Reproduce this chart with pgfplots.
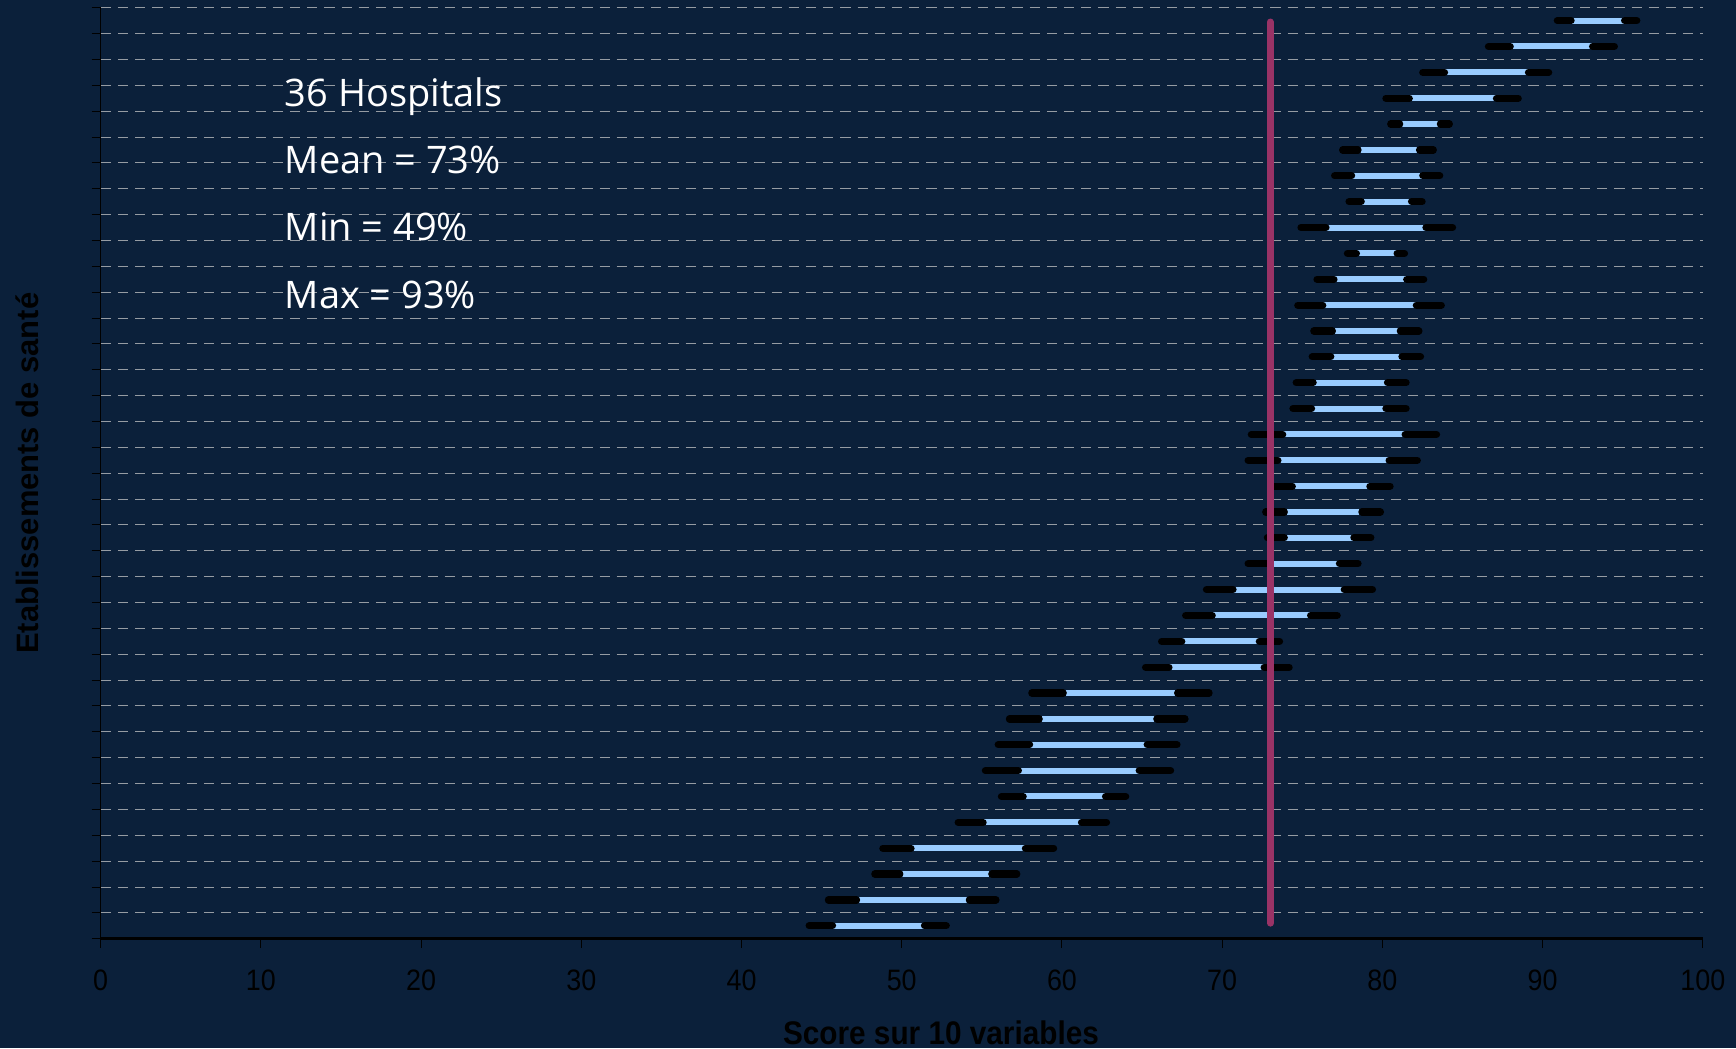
\documentclass[border=0pt]{standalone}
\usepackage{fontspec}
\setmainfont{Liberation Sans}[FakeStretch=0.91]
\newfontfamily\annfont{Open Sans}
\newfontfamily\ylabfont{Liberation Sans}
\usepackage{pgfplots}
\pgfplotsset{compat=1.18}
\usepackage{pgfplotstable}
\definecolor{bg}{RGB}{11,32,58}
\definecolor{barblue}{RGB}{153,204,255}
\definecolor{meanc}{RGB}{153,51,102}
\definecolor{gridc}{RGB}{150,156,163}

\pgfplotstableread{
y a b c d
35.5 90.7 92.0 94.9 96.1
34.5 86.4 88.2 92.9 94.7
33.5 82.3 84.1 88.9 90.6
32.5 80.0 81.9 86.9 88.7
31.5 80.3 81.3 83.4 84.4
30.5 77.3 78.7 82.1 83.4
29.5 76.8 78.3 82.3 83.8
28.5 77.7 78.9 81.6 82.7
27.5 74.7 76.7 82.5 84.6
26.5 77.6 78.6 80.7 81.6
25.5 75.7 77.2 81.3 82.8
24.5 74.5 76.5 81.9 83.9
23.5 75.5 77.1 80.9 82.5
22.5 75.4 77.0 81.0 82.6
21.5 74.4 75.9 80.1 81.7
20.5 74.2 75.8 80.0 81.7
19.5 71.6 74.0 81.2 83.6
18.5 71.4 73.7 80.2 82.4
17.5 73.0 74.6 79.0 80.7
16.5 72.5 74.1 78.5 80.1
15.5 72.6 74.1 78.0 79.5
14.5 71.4 73.0 77.1 78.7
13.5 68.8 70.9 77.4 79.6
12.5 67.5 69.6 75.3 77.4
11.5 66.0 67.7 72.1 73.8
10.5 65.0 66.9 72.4 74.4
9.5 57.9 60.3 67.0 69.4
8.5 56.5 58.8 65.7 67.9
7.5 55.8 58.2 65.1 67.4
6.5 55.0 57.5 64.6 67.0
5.5 56.0 57.8 62.5 64.2
4.5 53.3 55.3 61.0 63.0
3.5 48.6 50.8 57.5 59.7
2.5 48.1 50.1 55.4 57.4
1.5 45.2 47.4 54.0 56.1
0.5 44.0 45.9 51.2 53.0
}\data

\begin{document}
\begin{tikzpicture}
\fill[bg] (-1.007cm,-1.093cm) rectangle (16.352cm,9.387cm);
\begin{axis}[
  at={(0,0)}, anchor=south west,
  scale only axis, width=16.02cm, height=9.31cm,
  xmin=0, xmax=100, ymin=0, ymax=36,
  axis x line*=bottom, axis y line*=left,
  x axis line style={line width=0.25mm, black},
  y axis line style={line width=0.1mm, black},
  xtick={0,10,...,100}, ytick={0,1,...,36}, yticklabels={},
  tick align=outside, major tick length=0.9mm,
  tick style={black, line width=0.1mm},
  ymajorgrids,
  grid style={gridc, line width=0.1mm, dash pattern=on 1.03mm off 0.69mm},
  /pgf/number format/assume math mode=true,
  xticklabel style={font=\fontsize{8.4}{9}\selectfont, text=black, anchor=base, yshift=-4.3mm},
  xlabel={Score sur 10 variables},
  xlabel style={at={(axis description cs:0.5245,-0.1131)}, anchor=base,
    font=\bfseries\fontsize{9.3}{10}\selectfont, text=black},
  ylabel={Etablissements de santé},
  ylabel style={at={(axis description cs:-0.0456,0.5)}, anchor=center,
    font=\ylabfont\bfseries\fontsize{8.8}{10}\selectfont, text=black},
  clip=false,
]
% light blue central part
\addplot[barblue, line width=0.6mm,
  quiver={u=\thisrow{c}-\thisrow{b}+0.44, v=0}]
  table[x expr=\thisrow{b}-0.22, y=y]{\data};
% black left segment
\addplot[black, line width=0.72mm, line cap=round,
  quiver={u=\thisrow{b}-\thisrow{a}-0.44, v=0,
          every arrow/.append style={line cap=round}}]
  table[x expr=\thisrow{a}+0.22, y=y]{\data};
% black right segment
\addplot[black, line width=0.72mm, line cap=round,
  quiver={u=\thisrow{d}-\thisrow{c}-0.44, v=0,
          every arrow/.append style={line cap=round}}]
  table[x expr=\thisrow{c}+0.22, y=y]{\data};
% mean line
\addplot[meanc, line width=0.68mm, line cap=round] coordinates {(73,0.6) (73,35.45)};

\tikzset{ann/.style={anchor=base west, inner sep=0pt, text=white, font=\annfont\fontsize{10.8}{12}\selectfont}}
\node[ann] at (axis cs:11.45,32.17) {36 Hospitals};
\node[ann] at (axis cs:11.45,29.6) {Mean = 73\%};
\node[ann] at (axis cs:11.45,26.99) {Min = 49\%};
\node[ann] at (axis cs:11.45,24.38) {Max = 93\%};
\end{axis}
\pgfresetboundingbox
\path (-1.007cm,-1.093cm) rectangle (16.352cm,9.387cm);
\end{tikzpicture}
\end{document}
